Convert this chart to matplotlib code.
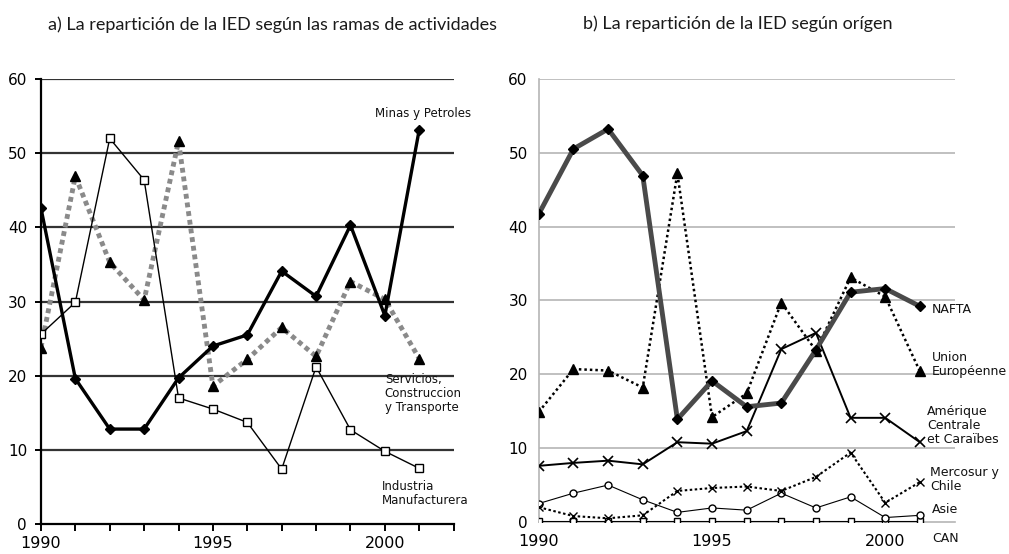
import matplotlib.pyplot as plt

years = list(range(1990, 2002))

# a) ramas de actividades
minas = [42.6, 19.6, 12.8, 12.8, 19.7, 24.0, 25.5, 34.1, 30.7, 40.3, 28.1, 53.2]
servicios = [23.8, 46.9, 35.3, 30.2, 51.6, 18.6, 22.2, 26.5, 22.6, 32.7, 30.3, 22.3]
industria = [25.6, 29.9, 52.0, 46.4, 17.0, 15.5, 13.7, 7.4, 21.2, 12.7, 9.8, 7.5]

# b) origen
nafta = [41.7, 50.5, 53.2, 46.9, 13.9, 19.1, 15.6, 16.1, 23.3, 31.1, 31.6, 29.2]
union_eu = [14.9, 20.7, 20.5, 18.2, 47.2, 14.2, 17.4, 29.7, 23.2, 33.1, 30.5, 20.4]
amerique = [7.6, 8.0, 8.3, 7.8, 10.8, 10.6, 12.3, 23.4, 25.6, 14.1, 14.1, 10.8]
mercosur = [2.0, 0.8, 0.5, 0.9, 4.2, 4.6, 4.8, 4.2, 6.1, 9.4, 2.6, 5.4]
asie = [2.5, 3.9, 5.0, 3.0, 1.3, 1.9, 1.6, 3.9, 1.9, 3.4, 0.6, 0.9]
can = [0.1, 0.1, 0.1, 0.1, 0.1, 0.1, 0.1, 0.1, 0.1, 0.1, 0.1, 0.1]

year_labels = ['1990', '1995', '2000']
y_ticks = [0, 10, 20, 30, 40, 50, 60]

fig = plt.figure(figsize=(10.09, 5.54), dpi=100)
ax1 = fig.add_axes([0.0406, 0.0542, 0.409, 0.803])
ax2 = fig.add_axes([0.534, 0.0578, 0.412, 0.800])

title_font = {'family': 'Lato', 'size': 13, 'color': '#1a1a1a'}
fig.text(0.048, 0.955, 'a) La repartición de la IED según las ramas de actividades',
         ha='left', va='center', **title_font)
fig.text(0.578, 0.958, 'b) La repartición de la IED según orígen',
         ha='left', va='center', **title_font)

# ---- left panel
for v in y_ticks[1:]:
    ax1.axhline(v, color='#333333', lw=1.6, zorder=1)
ax1.plot(years, industria, color='black', lw=1.0, marker='s', ms=6,
         mfc='white', mec='black', mew=1.0, zorder=3)
ax1.plot(years, servicios, color='#8a8a8a', lw=3.5, ls=(0, (1, 0.8)),
         marker='^', ms=7, mfc='black', mec='black', zorder=2)
ax1.plot(years, minas, color='black', lw=2.4, marker='D', ms=5, zorder=4)

ax1.set_xlim(1990, 2002)
ax1.set_ylim(0, 60)
ax1.set_xticks(list(range(1990, 2003)))
ax1.set_xticklabels([str(y) if str(y) in year_labels else '' for y in range(1990, 2003)])
ax1.set_yticks(y_ticks)
for s in ['top', 'right']:
    ax1.spines[s].set_visible(False)
ax1.spines['left'].set_linewidth(1.6)
ax1.spines['bottom'].set_linewidth(1.6)
ax1.tick_params(axis='x', direction='out', length=5, width=1.4, pad=4, labelsize=11.5)
ax1.tick_params(axis='y', direction='out', length=4, width=1.4, pad=6, labelsize=11)

lab = {'family': 'DejaVu Sans', 'size': 8.5, 'color': '#111111'}
lab_r = {'family': 'DejaVu Sans', 'size': 9, 'color': '#111111'}
ax1.text(2001.1, 55.4, 'Minas y Petroles', ha='center', va='center', **lab)
ax1.text(2000.0, 17.6, 'Servicios,\nConstruccion\ny Transporte', ha='left', va='center',
         linespacing=1.1, **lab)
ax1.text(1999.9, 4.1, 'Industria\nManufacturera', ha='left', va='center',
         linespacing=1.1, **lab)

# ---- right panel
for v in y_ticks[1:]:
    ax2.axhline(v, color='#b5b5b5', lw=1.2, zorder=1)
ax2.plot(years, can, color='black', lw=0.8, marker='s', ms=5,
         mfc='white', mec='black', zorder=3)
ax2.plot(years, asie, color='black', lw=0.8, marker='o', ms=5,
         mfc='white', mec='black', zorder=3)
ax2.plot(years, mercosur, color='black', lw=1.5, ls=(0, (1.2, 1.2)),
         marker='x', ms=6, mew=1.0, zorder=3)
ax2.plot(years, amerique, color='black', lw=1.4, marker='x', ms=7, mew=1.2, zorder=3)
ax2.plot(years, union_eu, color='black', lw=1.8, ls=(0, (1, 1.2)),
         marker='^', ms=7, zorder=3)
ax2.plot(years, nafta, color='#4a4a4a', lw=3.5, marker='D', ms=5,
         mfc='black', mec='black', zorder=4)

ax2.set_xlim(1990, 2002)
ax2.set_ylim(0, 60)
ax2.set_xticks([1990, 1995, 2000])
ax2.set_xticklabels(year_labels)
ax2.set_yticks(y_ticks)
for s in ['top', 'right']:
    ax2.spines[s].set_visible(False)
ax2.spines['left'].set_color('#b5b5b5')
ax2.spines['left'].set_linewidth(1.2)
ax2.spines['bottom'].set_color('#b5b5b5')
ax2.spines['bottom'].set_linewidth(1.2)
ax2.tick_params(axis='x', length=0, pad=9, labelsize=11.5)
ax2.tick_params(axis='y', length=0, pad=8, labelsize=11)

ax2.text(2001.35, 28.7, 'NAFTA', ha='left', va='center', **lab_r)
ax2.text(2001.35, 21.3, 'Union\nEuropéenne', ha='left', va='center', linespacing=1.1, **lab_r)
ax2.text(2001.2, 13.0, 'Amérique\nCentrale\net Caraïbes', ha='left', va='center',
         linespacing=1.1, **lab_r)
ax2.text(2001.3, 5.8, 'Mercosur y\nChile', ha='left', va='center', linespacing=1.1, **lab_r)
ax2.text(2001.35, 1.7, 'Asie', ha='left', va='center', **lab_r)
ax2.text(2001.35, -2.2, 'CAN', ha='left', va='center', clip_on=False, **lab_r)

fig.savefig('out.png', dpi=100)
